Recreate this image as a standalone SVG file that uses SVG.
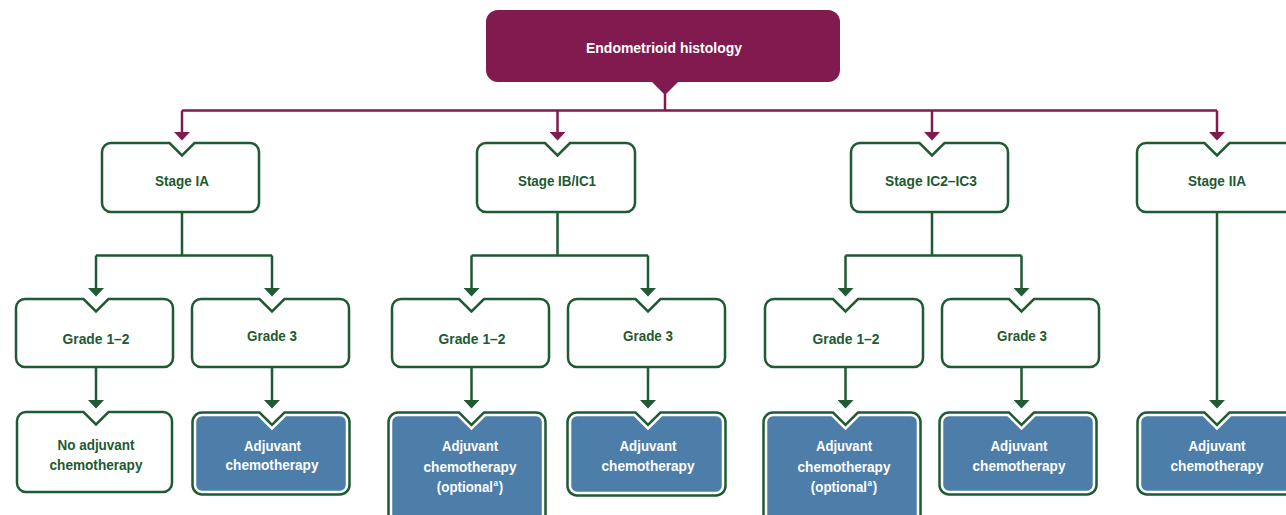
<svg xmlns="http://www.w3.org/2000/svg" width="1286" height="515" viewBox="0 0 1286 515">
<defs>
<style>
.g{fill:#fff;stroke:#1e5a32;stroke-width:2.5}
.bo{fill:none;stroke:#1e5a32;stroke-width:7.5}
.bi{fill:#4d7eaa;stroke:#fff;stroke-width:2.5}
.lm{fill:none;stroke:#811a4e;stroke-width:2.5}
.lg{fill:none;stroke:#1e5a32;stroke-width:2.5}
text{font-family:"Liberation Sans",Arial,sans-serif;font-weight:bold;font-size:15.5px;text-anchor:middle}
.t{fill:#1e5a32}
.w{fill:#fff}
.sup{font-size:9.5px}
</style>
<marker id="am" viewBox="0 0 8.5 16" refX="0" refY="8" markerWidth="8.5" markerHeight="16" markerUnits="userSpaceOnUse" orient="auto"><path d="M0,0 L8.5,8 L0,16 Z" fill="#811a4e"/></marker>
<marker id="ag" viewBox="0 0 8.5 16" refX="0" refY="8" markerWidth="8.5" markerHeight="16" markerUnits="userSpaceOnUse" orient="auto"><path d="M0,0 L8.5,8 L0,16 Z" fill="#1e5a32"/></marker>
</defs>
<rect width="1286" height="515" fill="#fff"/>
<g id="connectors">
<path class="lm" d="M665,94 V110.5 M182,110.5 H1217"/>
<path class="lm" d="M182,110.5 V132" marker-end="url(#am)"/>
<path class="lm" d="M557.5,110.5 V132" marker-end="url(#am)"/>
<path class="lm" d="M932,110.5 V132" marker-end="url(#am)"/>
<path class="lm" d="M1217,110.5 V132" marker-end="url(#am)"/>
<path class="lg" d="M182,212 V255.5 M96,255.5 H272 M557.5,212 V255.5 M471.5,255.5 H648 M932,212 V255.5 M845.5,255.5 H1021.5"/>
<path class="lg" d="M96,255.5 V288" marker-end="url(#ag)"/>
<path class="lg" d="M272,255.5 V288" marker-end="url(#ag)"/>
<path class="lg" d="M471.5,255.5 V288" marker-end="url(#ag)"/>
<path class="lg" d="M648,255.5 V288" marker-end="url(#ag)"/>
<path class="lg" d="M845.5,255.5 V288" marker-end="url(#ag)"/>
<path class="lg" d="M1021.5,255.5 V288" marker-end="url(#ag)"/>
<path class="lg" d="M1217,212 V400" marker-end="url(#ag)"/>
<path class="lg" d="M96,367 V400" marker-end="url(#ag)"/>
<path class="lg" d="M272,367 V400" marker-end="url(#ag)"/>
<path class="lg" d="M471.5,367 V400" marker-end="url(#ag)"/>
<path class="lg" d="M648,367 V400" marker-end="url(#ag)"/>
<path class="lg" d="M845.5,367 V400" marker-end="url(#ag)"/>
<path class="lg" d="M1021.5,367 V400" marker-end="url(#ag)"/>
</g>
<g id="endometrioid">
<path d="M498,10 H828 A12,12 0 0 1 840,22 V70 A12,12 0 0 1 828,82 H678 L665,95 L652,82 H498 A12,12 0 0 1 486,70 V22 A12,12 0 0 1 498,10 Z" fill="#811a4e"/>
<text class="w" x="664" y="52.5" textLength="156" lengthAdjust="spacingAndGlyphs">Endometrioid histology</text>
</g>
<g id="stage-ia">
<path class="g" d="M111,143 H169.5 L182,155.5 L194.5,143 H250 A9,9 0 0 1 259,152 V203 A9,9 0 0 1 250,212 H111 A9,9 0 0 1 102,203 V152 A9,9 0 0 1 111,143 Z"/>
<text class="t" x="182" y="186" textLength="54" lengthAdjust="spacingAndGlyphs">Stage IA</text>
</g>
<g id="stage-ib-ic1">
<path class="g" d="M486,143 H545 L557.5,155.5 L570,143 H626 A9,9 0 0 1 635,152 V203 A9,9 0 0 1 626,212 H486 A9,9 0 0 1 477,203 V152 A9,9 0 0 1 486,143 Z"/>
<text class="t" x="557" y="186" textLength="78" lengthAdjust="spacingAndGlyphs">Stage IB/IC1</text>
</g>
<g id="stage-ic2-ic3">
<path class="g" d="M860,143 H919.5 L932,155.5 L944.5,143 H999 A9,9 0 0 1 1008,152 V203 A9,9 0 0 1 999,212 H860 A9,9 0 0 1 851,203 V152 A9,9 0 0 1 860,143 Z"/>
<text class="t" x="931" y="186" textLength="92" lengthAdjust="spacingAndGlyphs">Stage IC2–IC3</text>
</g>
<g id="stage-iia">
<path class="g" d="M1146,143 H1204.5 L1217,155.5 L1229.5,143 H1288 A9,9 0 0 1 1297,152 V203 A9,9 0 0 1 1288,212 H1146 A9,9 0 0 1 1137,203 V152 A9,9 0 0 1 1146,143 Z"/>
<text class="t" x="1217" y="186" textLength="58" lengthAdjust="spacingAndGlyphs">Stage IIA</text>
</g>
<g id="ia-grade-1-2">
<path class="g" d="M25,299 H83.5 L96,311.5 L108.5,299 H164 A9,9 0 0 1 173,308 V358 A9,9 0 0 1 164,367 H25 A9,9 0 0 1 16,358 V308 A9,9 0 0 1 25,299 Z"/>
<text class="t" x="96" y="344" textLength="67" lengthAdjust="spacingAndGlyphs">Grade 1–2</text>
</g>
<g id="ia-grade-3">
<path class="g" d="M201,299 H259.5 L272,311.5 L284.5,299 H340 A9,9 0 0 1 349,308 V358 A9,9 0 0 1 340,367 H201 A9,9 0 0 1 192,358 V308 A9,9 0 0 1 201,299 Z"/>
<text class="t" x="272" y="341" textLength="50" lengthAdjust="spacingAndGlyphs">Grade 3</text>
</g>
<g id="ib-grade-1-2">
<path class="g" d="M401,299 H459 L471.5,311.5 L484,299 H540 A9,9 0 0 1 549,308 V358 A9,9 0 0 1 540,367 H401 A9,9 0 0 1 392,358 V308 A9,9 0 0 1 401,299 Z"/>
<text class="t" x="472" y="344" textLength="67" lengthAdjust="spacingAndGlyphs">Grade 1–2</text>
</g>
<g id="ib-grade-3">
<path class="g" d="M577,299 H635.5 L648,311.5 L660.5,299 H716 A9,9 0 0 1 725,308 V358 A9,9 0 0 1 716,367 H577 A9,9 0 0 1 568,358 V308 A9,9 0 0 1 577,299 Z"/>
<text class="t" x="648" y="341" textLength="50" lengthAdjust="spacingAndGlyphs">Grade 3</text>
</g>
<g id="ic-grade-1-2">
<path class="g" d="M774,299 H833 L845.5,311.5 L858,299 H914 A9,9 0 0 1 923,308 V358 A9,9 0 0 1 914,367 H774 A9,9 0 0 1 765,358 V308 A9,9 0 0 1 774,299 Z"/>
<text class="t" x="846" y="344" textLength="67" lengthAdjust="spacingAndGlyphs">Grade 1–2</text>
</g>
<g id="ic-grade-3">
<path class="g" d="M951,299 H1009 L1021.5,311.5 L1034,299 H1090 A9,9 0 0 1 1099,308 V358 A9,9 0 0 1 1090,367 H951 A9,9 0 0 1 942,358 V308 A9,9 0 0 1 951,299 Z"/>
<text class="t" x="1022" y="341" textLength="50" lengthAdjust="spacingAndGlyphs">Grade 3</text>
</g>
<g id="ia-g12-no-adjuvant">
<path class="g" d="M26,412 H83.5 L96,424.5 L108.5,412 H163 A9,9 0 0 1 172,421 V483 A9,9 0 0 1 163,492 H26 A9,9 0 0 1 17,483 V421 A9,9 0 0 1 26,412 Z"/>
<text class="t" x="96" y="450" textLength="77" lengthAdjust="spacingAndGlyphs">No adjuvant</text>
<text class="t" x="96" y="469.5" textLength="93" lengthAdjust="spacingAndGlyphs">chemotherapy</text>
</g>
<g id="ia-g3-adjuvant">
<path class="bo" d="M202,415 H258.5 L272,428.5 L285.5,415 H340 A7,7 0 0 1 347,422 V485 A7,7 0 0 1 340,492 H202 A7,7 0 0 1 195,485 V422 A7,7 0 0 1 202,415 Z"/>
<path class="bi" d="M202,415 H258.5 L272,428.5 L285.5,415 H340 A7,7 0 0 1 347,422 V485 A7,7 0 0 1 340,492 H202 A7,7 0 0 1 195,485 V422 A7,7 0 0 1 202,415 Z"/>
<text class="w" x="272.5" y="450.5" textLength="57" lengthAdjust="spacingAndGlyphs">Adjuvant</text>
<text class="w" x="272" y="470" textLength="93" lengthAdjust="spacingAndGlyphs">chemotherapy</text>
</g>
<g id="ib-g12-adjuvant-optional">
<path class="bo" d="M398,415 H458 L471.5,428.5 L485,415 H536 A7,7 0 0 1 543,422 V533 A7,7 0 0 1 536,540 H398 A7,7 0 0 1 391,533 V422 A7,7 0 0 1 398,415 Z"/>
<path class="bi" d="M398,415 H458 L471.5,428.5 L485,415 H536 A7,7 0 0 1 543,422 V533 A7,7 0 0 1 536,540 H398 A7,7 0 0 1 391,533 V422 A7,7 0 0 1 398,415 Z"/>
<text class="w" x="470" y="451" textLength="56" lengthAdjust="spacingAndGlyphs">Adjuvant</text>
<text class="w" x="470" y="471.5" textLength="93" lengthAdjust="spacingAndGlyphs">chemotherapy</text>
<text class="w" transform="translate(470,492) scale(0.86,1)" x="0" y="0">(optional<tspan class="sup" dx="0.5" dy="-6">a</tspan><tspan dx="0.8" dy="6">)</tspan></text>
</g>
<g id="ib-g3-adjuvant">
<path class="bo" d="M577,415 H634.5 L648,428.5 L661.5,415 H716 A7,7 0 0 1 723,422 V486 A7,7 0 0 1 716,493 H577 A7,7 0 0 1 570,486 V422 A7,7 0 0 1 577,415 Z"/>
<path class="bi" d="M577,415 H634.5 L648,428.5 L661.5,415 H716 A7,7 0 0 1 723,422 V486 A7,7 0 0 1 716,493 H577 A7,7 0 0 1 570,486 V422 A7,7 0 0 1 577,415 Z"/>
<text class="w" x="648" y="451" textLength="57" lengthAdjust="spacingAndGlyphs">Adjuvant</text>
<text class="w" x="648" y="471" textLength="93" lengthAdjust="spacingAndGlyphs">chemotherapy</text>
</g>
<g id="ic-g12-adjuvant-optional">
<path class="bo" d="M773,415 H832 L845.5,428.5 L859,415 H911 A7,7 0 0 1 918,422 V533 A7,7 0 0 1 911,540 H773 A7,7 0 0 1 766,533 V422 A7,7 0 0 1 773,415 Z"/>
<path class="bi" d="M773,415 H832 L845.5,428.5 L859,415 H911 A7,7 0 0 1 918,422 V533 A7,7 0 0 1 911,540 H773 A7,7 0 0 1 766,533 V422 A7,7 0 0 1 773,415 Z"/>
<text class="w" x="844" y="451" textLength="56" lengthAdjust="spacingAndGlyphs">Adjuvant</text>
<text class="w" x="844" y="471.5" textLength="93" lengthAdjust="spacingAndGlyphs">chemotherapy</text>
<text class="w" transform="translate(844,492) scale(0.86,1)" x="0" y="0">(optional<tspan class="sup" dx="0.5" dy="-6">a</tspan><tspan dx="0.8" dy="6">)</tspan></text>
</g>
<g id="ic-g3-adjuvant">
<path class="bo" d="M949,415 H1008 L1021.5,428.5 L1035,415 H1087 A7,7 0 0 1 1094,422 V485 A7,7 0 0 1 1087,492 H949 A7,7 0 0 1 942,485 V422 A7,7 0 0 1 949,415 Z"/>
<path class="bi" d="M949,415 H1008 L1021.5,428.5 L1035,415 H1087 A7,7 0 0 1 1094,422 V485 A7,7 0 0 1 1087,492 H949 A7,7 0 0 1 942,485 V422 A7,7 0 0 1 949,415 Z"/>
<text class="w" x="1019" y="451" textLength="57" lengthAdjust="spacingAndGlyphs">Adjuvant</text>
<text class="w" x="1019" y="471" textLength="93" lengthAdjust="spacingAndGlyphs">chemotherapy</text>
</g>
<g id="iia-adjuvant">
<path class="bo" d="M1147,415 H1203.5 L1217,428.5 L1230.5,415 H1293 A7,7 0 0 1 1300,422 V485 A7,7 0 0 1 1293,492 H1147 A7,7 0 0 1 1140,485 V422 A7,7 0 0 1 1147,415 Z"/>
<path class="bi" d="M1147,415 H1203.5 L1217,428.5 L1230.5,415 H1293 A7,7 0 0 1 1300,422 V485 A7,7 0 0 1 1293,492 H1147 A7,7 0 0 1 1140,485 V422 A7,7 0 0 1 1147,415 Z"/>
<text class="w" x="1217" y="451" textLength="57" lengthAdjust="spacingAndGlyphs">Adjuvant</text>
<text class="w" x="1217" y="471" textLength="93" lengthAdjust="spacingAndGlyphs">chemotherapy</text>
</g>
</svg>
